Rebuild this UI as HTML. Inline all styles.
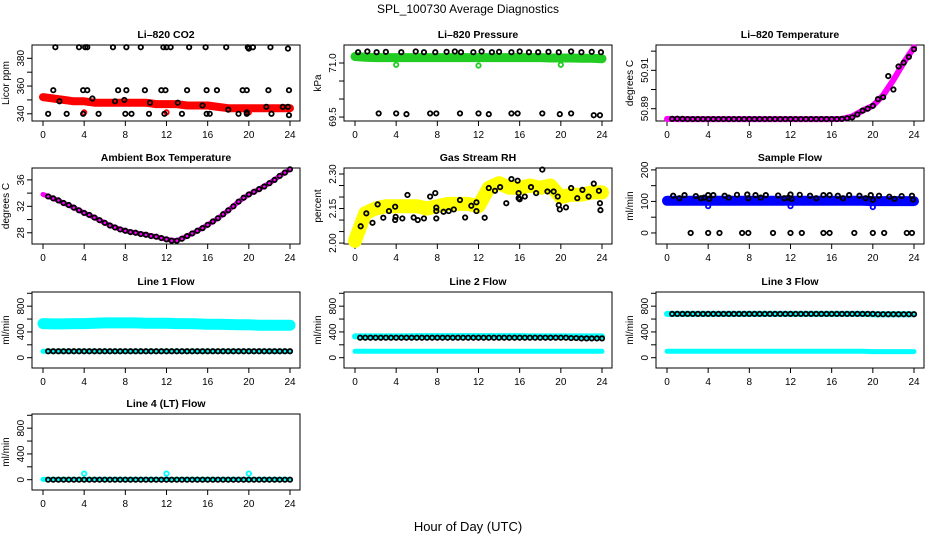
<!DOCTYPE html>
<html><head><meta charset="utf-8"><title>SPL_100730 Average Diagnostics</title>
<style>
html,body{margin:0;padding:0;background:#fff;}
svg{display:block;font-family:"Liberation Sans",sans-serif;}
</style></head>
<body>
<svg id="chart" width="936" height="540" viewBox="0 0 936 540">
<text x="468" y="13" text-anchor="middle" font-size="12">SPL_100730  Average Diagnostics</text>
<text x="468" y="531" text-anchor="middle" font-size="13">Hour of Day (UTC)</text>
</svg>
<script>
// ---- data ----
const hours = [0,1,2,3,4,5,6,7,8,9,10,11,12,13,14,15,16,17,18,19,20,21,22,23,24];
const halfHours = [0.5,1,1.5,2,2.5,3,3.5,4,4.5,5,5.5,6,6.5,7,7.5,8,8.5,9,9.5,10,10.5,11,11.5,12,12.5,13,13.5,14,14.5,15,15.5,16,16.5,17,17.5,18,18.5,19,19.5,20,20.5,21,21.5,22,22.5,23,23.5,24];
const xTicks = [0,4,8,12,16,20,24];

const co2Band = [352,351,350,349,349,348,348,348,348,348,348,347,347,347,346,346,346,345,344,344,344,344,344,344,344];
const co2PtsH = [1.2,3.5,4.1,4.3,6.8,8.1,9.5,11.7,12.0,12.4,14.2,15.8,17.8,19.9,20.0,20.4,22.1,23.8,1.0,3.9,4.3,7.3,8.1,9.9,11.5,11.9,14.0,15.9,16.9,19.4,19.8,21.9,23.9,0.5,2.3,3.9,5.4,8.0,8.6,10.3,11.8,13.5,15.9,16.2,19.0,19.8,22.2,23.9,1.6,4.8,7.0,7.9,10.4,13.1,15.5,18.0,19.8,21.7,23.3,23.8];
const co2PtsV = [388,388,388,388,388,388,388,388,388,388,388,388,388,388,387,388,388,387,357,357,357,357,357,357,357,357,357,357,357,357,357,357,357,340,340,340,340,340,340,340,340,340,340,340,340,340,340,339,349,351,349,350,348,348,346,343,341,345,345,345];
const co2OutH = [4,12,20];
const co2OutV = [341,341,341];

const presBand = [71.18,71.16,71.15,71.15,71.15,71.15,71.15,71.15,71.15,71.15,71.15,71.15,71.15,71.15,71.15,71.15,71.15,71.15,71.15,71.14,71.14,71.14,71.13,71.13,71.12];
const presPtsH = [0.3,1.2,2.1,3.0,4.5,5.9,6.7,7.8,8.9,9.7,10.3,11.5,12.3,13.3,14.0,15.2,16.0,16.9,17.8,18.8,19.8,21.0,22.0,23.0,23.9,2.3,4,5,7.3,7.9,10.2,12,13,15.2,15.8,18.2,19.9,21,23.2,23.8];
const presPtsV = [71.3,71.32,71.3,71.31,71.3,71.32,71.3,71.3,71.31,71.32,71.3,71.3,71.32,71.3,71.31,71.3,71.32,71.3,71.3,71.31,71.3,71.32,71.3,71.31,71.3,69.6,69.6,69.58,69.6,69.6,69.6,69.6,69.58,69.6,69.6,69.6,69.58,69.6,69.55,69.55];
const presOutH = [4,12,20];
const presOutV = [70.95,70.93,70.95];

const ltBand = [50.8847,50.8846,50.8846,50.8846,50.8846,50.8846,50.8846,50.8846,50.8846,50.8846,50.8846,50.8846,50.8846,50.8846,50.8846,50.8846,50.8846,50.8847,50.886,50.889,50.8915,50.897,50.905,50.914,50.922];
const ltPtsV = [50.8847,50.8848,50.8847,50.8846,50.8846,50.8846,50.8846,50.8846,50.8846,50.8846,50.8846,50.8846,50.8846,50.8846,50.8846,50.8846,50.8846,50.8846,50.8846,50.8846,50.8846,50.8846,50.8846,50.8846,50.8846,50.8846,50.8846,50.8846,50.8846,50.8846,50.8846,50.8846,50.8846,50.8847,50.885,50.8855,50.887,50.889,50.890,50.8915,50.895,50.896,50.907,50.900,50.912,50.914,50.917,50.921];

const abBand = [33.8,33.2,32.5,31.8,31.0,30.3,29.5,28.8,28.3,28.0,27.7,27.4,27.0,26.8,27.5,28.3,29.2,30.2,31.4,32.7,33.8,34.6,35.5,36.6,37.6];
const abPtsV = [33.5,33.2,32.9,32.5,32.2,31.8,31.4,31.0,30.7,30.3,29.9,29.5,29.1,28.8,28.5,28.3,28.1,28.0,27.8,27.7,27.5,27.4,27.2,27.0,26.8,26.8,27.1,27.5,27.9,28.3,28.7,29.2,29.7,30.2,30.8,31.4,32.0,32.7,33.3,33.8,34.2,34.6,35.0,35.5,36.0,36.6,37.1,37.6];

const rhBand = [2.01,2.13,2.15,2.16,2.16,2.16,2.16,2.15,2.16,2.17,2.17,2.17,2.16,2.24,2.26,2.24,2.24,2.25,2.24,2.25,2.20,2.21,2.21,2.22,2.22];
const rhPtsH = [0.55,1.1,1.7,2.2,2.75,3.3,3.9,3.9,3.95,4.6,5.1,5.7,6.1,6.7,7.3,7.8,7.9,7.9,7.9,8.6,9.1,9.6,10.2,10.7,11.3,11.8,11.8,12.6,13.0,13.6,14.1,14.7,15.2,15.8,15.9,15.9,16.0,16.5,17.1,17.6,18.2,18.7,19.3,19.7,19.8,19.9,20.5,21.0,21.6,22.1,22.7,23.2,23.7,23.8,23.85];
const rhPtsV = [2.073,2.129,2.088,2.168,2.11,2.139,2.158,2.10,2.114,2.107,2.209,2.111,2.10,2.107,2.202,2.217,2.154,2.107,2.139,2.136,2.139,2.146,2.187,2.111,2.162,2.177,2.139,2.11,2.239,2.227,2.243,2.173,2.278,2.271,2.217,2.195,2.19,2.202,2.243,2.217,2.319,2.224,2.224,2.202,2.165,2.146,2.155,2.239,2.195,2.231,2.202,2.258,2.227,2.173,2.143];

const sfBand = [102,102,102,102,102,102,102,102,102,102,102,102,102,102,102,102,102,102,102,102,101,101,101,101,101];
const sfPtsH = [0.6,1.2,1.7,2.8,3.3,3.6,4,4.1,4.5,5.6,6.0,6.8,7.8,7.9,8.6,9.1,9.6,10.8,11.4,11.8,12.0,12.1,12.9,13.9,14.5,15.2,15.8,16.6,17.1,17.7,18.7,19.3,19.8,20.0,20.6,21.6,22.1,22.8,23.8,23.9,2.3,4.0,5.1,7.3,7.9,10.3,12,13.1,15.2,15.8,18.2,20,21.1,23.3,23.8];
const sfPtsV = [118,110,120,117,110,112,120,108,120,118,112,121,122,110,120,112,120,119,110,112,122,108,121,118,110,120,120,118,110,120,118,110,120,105,118,115,108,117,118,106,0,0,0,0,0,0,0,0,0,0,0,0,0,0,0];
const sfOutH = [4,12,20];
const sfOutV = [85,85,82];

const l1High = [530,525,525,530,530,535,540,540,540,540,535,535,535,530,530,525,520,520,515,510,510,505,505,505,505];
const l1Low = [100,100,100,100,100,100,100,100,100,100,100,100,100,100,100,100,100,100,100,100,100,100,100,100,100];
const l1Pts = [100,100,100,100,100,100,100,100,100,100,100,100,100,100,100,100,100,100,100,100,100,100,100,100,100,100,100,100,100,100,100,100,100,100,100,100,100,100,100,100,100,100,100,100,100,100,100,100];
const l2High = [330,330,330,330,330,330,335,335,335,335,335,335,335,335,335,335,335,330,330,330,330,330,330,330,330];
const l2Low = [100,100,100,100,100,100,100,100,100,100,100,100,100,100,100,100,100,100,100,100,100,100,100,100,100];
const l2Pts = [310,310,310,310,310,310,310,310,310,310,310,310,310,310,310,310,310,310,310,310,310,310,310,310,310,310,310,310,310,310,310,310,310,310,310,310,310,310,310,310,310,305,305,300,300,300,300,300];
const l3High = [680,680,680,680,680,680,680,680,680,680,680,680,680,680,680,680,680,680,680,680,675,675,675,675,675];
const l3Low = [100,100,100,100,100,100,100,100,100,100,100,100,100,100,100,100,100,100,100,100,95,95,95,95,95];
const l3Pts = [680,680,680,680,680,680,680,680,680,680,680,680,680,680,680,680,680,680,680,680,680,680,680,680,680,680,680,680,680,680,680,680,680,680,680,680,680,680,680,680,675,675,675,675,675,675,675,675];
const l4Band = [5,5,5,5,5,5,5,5,5,5,5,5,5,5,5,5,5,5,5,5,5,5,5,5,5];
const l4Pts = [0,0,0,0,0,0,0,0,0,0,0,0,0,0,0,0,0,0,0,0,0,0,0,0,0,0,0,0,0,0,0,0,0,0,0,0,0,0,0,0,0,0,0,0,0,0,0,0];
const l4OutH = [4,12,20];
const l4OutV = [95,95,95];

// ---- layout ----
const NS = 'http://www.w3.org/2000/svg';
const svg = document.getElementById('chart');
const colL = [32, 344, 656];
const rowT = [45, 168, 292, 414];
const BW = 268, BH = 76;

function el(tag, attrs, parent) {
  const e = document.createElementNS(NS, tag);
  for (const k in attrs) e.setAttribute(k, attrs[k]);
  (parent || svg).appendChild(e);
  return e;
}

function makePanel(col, row, title, ylab, ymin, ymax, ticks, labels, key) {
  const L = colL[col], T = rowT[row];
  const g = el('g', {});
  
  
  const xs = h => L + 11 + h * 247 / 24;
  const ys = v => T + BH - (v - ymin) / (ymax - ymin) * BH;
  const box = el('rect', {x: L, y: T, width: BW, height: BH, fill: 'none', stroke: '#000', 'stroke-width': 1}, g);
  
  
  const t = el('text', {x: L + BW / 2, y: T - 7, 'text-anchor': 'middle', 'font-size': 10.5, 'font-weight': 'bold'}, g);
  t.textContent = title;
  
  
  const yl = el('text', {x: 0, y: 0, 'text-anchor': 'middle', 'font-size': 10, transform: `translate(${L - 23},${T + BH / 2}) rotate(-90)`}, g);
  yl.textContent = ylab;
  
  
  for (const h of xTicks) {
    const tk = el('line', {x1: xs(h), x2: xs(h), y1: T + BH, y2: T + BH + 5, stroke: '#000'}, g);
    
    
    const tl = el('text', {x: xs(h), y: T + BH + 17, 'text-anchor': 'middle', 'font-size': 10}, g);
    tl.textContent = h;
    
    
  }
  ticks.forEach(v => {
    const tk = el('line', {x1: L - 5, x2: L, y1: ys(v), y2: ys(v), stroke: '#000'}, g);
    
    
  });
  labels.forEach(lb => {
    const tl = el('text', {x: 0, y: 0, 'text-anchor': 'middle', 'font-size': 10, transform: `translate(${L - 8},${ys(parseFloat(lb))}) rotate(-90)`}, g);
    tl.textContent = lb;
    
    
  });
  return {g, xs, ys};
}

function band(p, hs, vs, color, w, name) {
  const pts = hs.map((h, i) => p.xs(h).toFixed(1) + ',' + p.ys(vs[i]).toFixed(1)).join(' ');
  const pl = el('polyline', {points: pts, fill: 'none', stroke: color, 'stroke-width': w, 'stroke-linejoin': 'round', 'stroke-linecap': 'round'}, p.g);
  
  
}
function circles(p, hs, vs, color, name) {
  hs.forEach((h, i) => {
    const c = el('circle', {cx: p.xs(h), cy: p.ys(vs[i]), r: 2.2, fill: 'none', stroke: color, 'stroke-width': 1.8}, p.g);
    
    
  });
}

let p;
p = makePanel(0, 0, 'Li–820 CO2', 'Licor ppm', 334.8, 389.6, [340,350,360,370,380], ['340','360','380'], 'co2');
band(p, hours, co2Band, '#ff0000', 8, 'co2-band');
circles(p, co2OutH, co2OutV, '#ff0000', 'co2-outlier');
circles(p, co2PtsH, co2PtsV, '#000', 'co2-point');

p = makePanel(1, 0, 'Li–820 Pressure', 'kPa', 69.39, 71.5, [69.5,70.0,70.5,71.0], ['69.5','71.0'], 'pressure');
band(p, hours, presBand, '#22cc22', 9, 'pressure-band');
circles(p, presOutH, presOutV, '#22cc22', 'pressure-outlier');
circles(p, presPtsH, presPtsV, '#000', 'pressure-point');

p = makePanel(2, 0, 'Li–820 Temperature', 'degrees C', 50.8836, 50.9232, [50.89,50.90,50.91,50.92], ['50.89','50.91'], 'licor-temp');
band(p, hours, ltBand, '#ff00ff', 6, 'licor-temp-band');
circles(p, halfHours, ltPtsV, '#000', 'licor-temp-point');

p = makePanel(0, 1, 'Ambient Box Temperature', 'degrees C', 26.3, 37.8, [28,30,32,34,36], ['28','32','36'], 'ambient');
band(p, hours, abBand, '#ff00ff', 5, 'ambient-band');
circles(p, halfHours, abPtsV, '#000', 'ambient-point');

p = makePanel(1, 1, 'Gas Stream RH', 'percent', 1.996, 2.326, [2.00,2.05,2.10,2.15,2.20,2.25,2.30], ['2.00','2.15','2.30'], 'rh');
band(p, hours, rhBand, '#ffff00', 14, 'rh-band');
circles(p, rhPtsH, rhPtsV, '#000', 'rh-point');

p = makePanel(2, 1, 'Sample Flow', 'ml/min', -35, 206, [0,50,100,150,200], ['0','100','200'], 'sample-flow');
band(p, hours, sfBand, '#0000ff', 10, 'sample-flow-band');
circles(p, sfOutH, sfOutV, '#0000ff', 'sample-flow-outlier');
circles(p, sfPtsH, sfPtsV, '#000', 'sample-flow-point');

const flowTicks = [0,200,400,600,800,1000], flowLabels = ['0','400','800'];
p = makePanel(0, 2, 'Line 1 Flow', 'ml/min', -160, 1020, flowTicks, flowLabels, 'line1');
band(p, hours, l1High, '#00ffff', 11, 'line1-high-band');
band(p, hours, l1Low, '#00ffff', 5, 'line1-low-band');
circles(p, halfHours, l1Pts, '#000', 'line1-point');

p = makePanel(1, 2, 'Line 2 Flow', 'ml/min', -160, 1020, flowTicks, flowLabels, 'line2');
band(p, hours, l2High, '#00ffff', 6, 'line2-high-band');
band(p, hours, l2Low, '#00ffff', 5, 'line2-low-band');
circles(p, halfHours, l2Pts, '#000', 'line2-point');

p = makePanel(2, 2, 'Line 3 Flow', 'ml/min', -160, 1020, flowTicks, flowLabels, 'line3');
band(p, hours, l3High, '#00ffff', 6, 'line3-high-band');
band(p, hours, l3Low, '#00ffff', 5, 'line3-low-band');
circles(p, halfHours, l3Pts, '#000', 'line3-point');

p = makePanel(0, 3, 'Line 4 (LT) Flow', 'ml/min', -160, 1020, flowTicks, flowLabels, 'line4');
band(p, hours, l4Band, '#00ffff', 5, 'line4-band');
circles(p, l4OutH, l4OutV, '#00ffff', 'line4-outlier');
circles(p, halfHours, l4Pts, '#000', 'line4-point');
</script>
</body></html>
